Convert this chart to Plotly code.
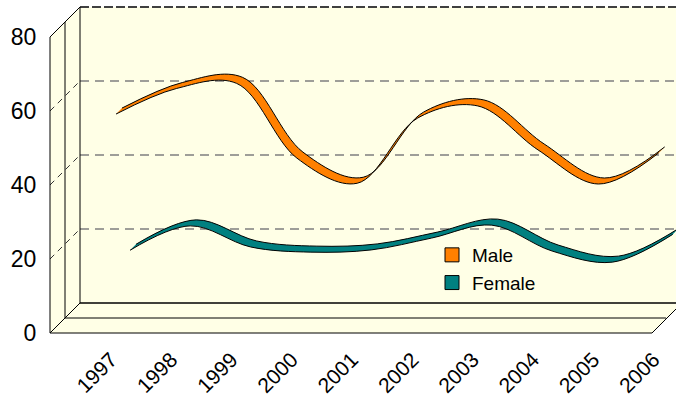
import plotly.graph_objects as go

# ---- data ----
years = ["1997", "1998", "1999", "2000", "2001", "2002", "2003", "2004", "2005", "2006"]
male = [58.9, 65.8, 67.2, 47.0, 40.2, 57.8, 61.1, 49.2, 40.0, 48.4]
female = [18.3, 24.9, 19.2, 17.8, 18.4, 21.6, 25.1, 18.1, 15.1, 22.6]
y_ticks = [0, 20, 40, 60, 80]

# ---- geometry (pixels) ----
W, H = 676, 400
ML, MB = 50, 67
PW, PH = W - ML, H - MB          # plot area 626 x 333
KX = 60.3                        # px per category
KY = 3.7                         # px per value unit
X0 = -(115 - ML) / KX            # x range start
YMAX = PH / KY
DEPTH = 30                       # 3-D depth of walls in px

def px(x):   # pixel x -> paper
    return (x - ML) / PW

def py(y):   # pixel y -> paper
    return (PH - y) / PH

fig = go.Figure()

def ribbon(values, name, color, d0, d1):
    idx = list(range(len(values)))
    fig.add_trace(go.Scatter(
        x=[i + d0 / KX for i in idx], y=[v + d0 / KY for v in values],
        mode="lines", line=dict(color="black", width=1, shape="spline"),
        hoverinfo="skip", showlegend=False))
    fig.add_trace(go.Scatter(
        x=[i + d1 / KX for i in idx], y=[v + d1 / KY for v in values],
        mode="lines", line=dict(color="black", width=1, shape="spline"),
        fill="tonexty", fillcolor=color, name=name, showlegend=False))

ribbon(male, "Male", "#FF8000", 1, 7)
ribbon(female, "Female", "#008080", 15, 21)

# legend proxies
for nm, col in [("Male", "#FF8000"), ("Female", "#008080")]:
    fig.add_trace(go.Scatter(
        x=[None], y=[None], mode="markers", name=nm, legendgroup=nm,
        marker=dict(symbol="square", size=14, color=col,
                    line=dict(color="black", width=1))))

shapes = []
BG = "#FFFFE6"
# walls + floor fill
shapes.append(dict(
    type="path", xref="paper", yref="paper", layer="below",
    path=(f"M {px(50)} {py(37)} L {px(80)} {py(7)} L {px(676)} {py(7)} "
          f"L {px(676)} {py(309)} L {px(652)} {py(333)} L {px(50)} {py(333)} Z"),
    fillcolor=BG, line=dict(width=0)))

# gridlines on back wall and side wall (dashed)
for v in y_ticks[1:4]:
    yb = v + DEPTH / KY
    shapes.append(dict(type="line", xref="paper", yref="y", layer="below",
                       x0=px(80), x1=px(676), y0=yb, y1=yb,
                       line=dict(color="#7F7F7F", width=1.5, dash="9px,6px")))
    shapes.append(dict(type="line", xref="paper", yref="y", layer="below",
                       x0=px(50), x1=px(80), y0=v, y1=yb,
                       line=dict(color="#333333", width=1, dash="6px,5px")))
# top edge of back wall
yt = y_ticks[-1] + DEPTH / KY
shapes.append(dict(type="line", xref="paper", yref="y", layer="below",
                   x0=px(80), x1=px(676), y0=yt, y1=yt,
                   line=dict(color="#404040", width=2, dash="9px,3px")))

def seg(x0, y0, x1, y1, w=1):
    shapes.append(dict(type="line", xref="paper", yref="paper", layer="below",
                       x0=px(x0), y0=py(y0), x1=px(x1), y1=py(y1),
                       line=dict(color="black", width=w)))

# frame lines
seg(50, 37, 50, 333)
seg(65, 22, 65, 318)
seg(80, 7, 80, 303)
seg(50, 37, 80, 7)
seg(50, 333, 80, 303)
seg(50, 333, 652, 333)
seg(65, 318, 666, 318)
seg(80, 303, 676, 303, 1.5)
seg(652, 333, 676, 309)

FONT = "Liberation Sans, Arial, sans-serif"
fig.update_layout(
    width=W, height=H,
    margin=dict(l=ML, r=0, t=0, b=MB, autoexpand=False),
    paper_bgcolor="white", plot_bgcolor="rgba(0,0,0,0)",
    shapes=shapes,
    font=dict(family=FONT, color="black"),
    showlegend=True,
    legend=dict(x=px(432), y=py(236), xanchor="left", yanchor="top",
                bgcolor="rgba(0,0,0,0)", font=dict(size=19, family=FONT),
                traceorder="grouped", tracegroupgap=0),
    xaxis=dict(range=[X0, X0 + PW / KX], tickmode="array",
               tickvals=list(range(len(years))), ticktext=years,
               tickangle=-45, ticks="outside", ticklen=5,
               tickcolor="rgba(0,0,0,0)", showgrid=False, zeroline=False,
               showline=False, automargin=False, ticklabelshift=-4,
               tickfont=dict(size=21, family=FONT)),
    yaxis=dict(range=[0, YMAX], tickmode="array", tickvals=y_ticks,
               ticks="outside", ticklen=8, tickcolor="rgba(0,0,0,0)",
               showgrid=False, zeroline=False, showline=False,
               automargin=False,
               tickfont=dict(size=23, family=FONT)),
)

fig.write_html("out.html",
               config={"displayModeBar": False, "staticPlot": True},
               post_script="document.body.style.margin='0px';")
